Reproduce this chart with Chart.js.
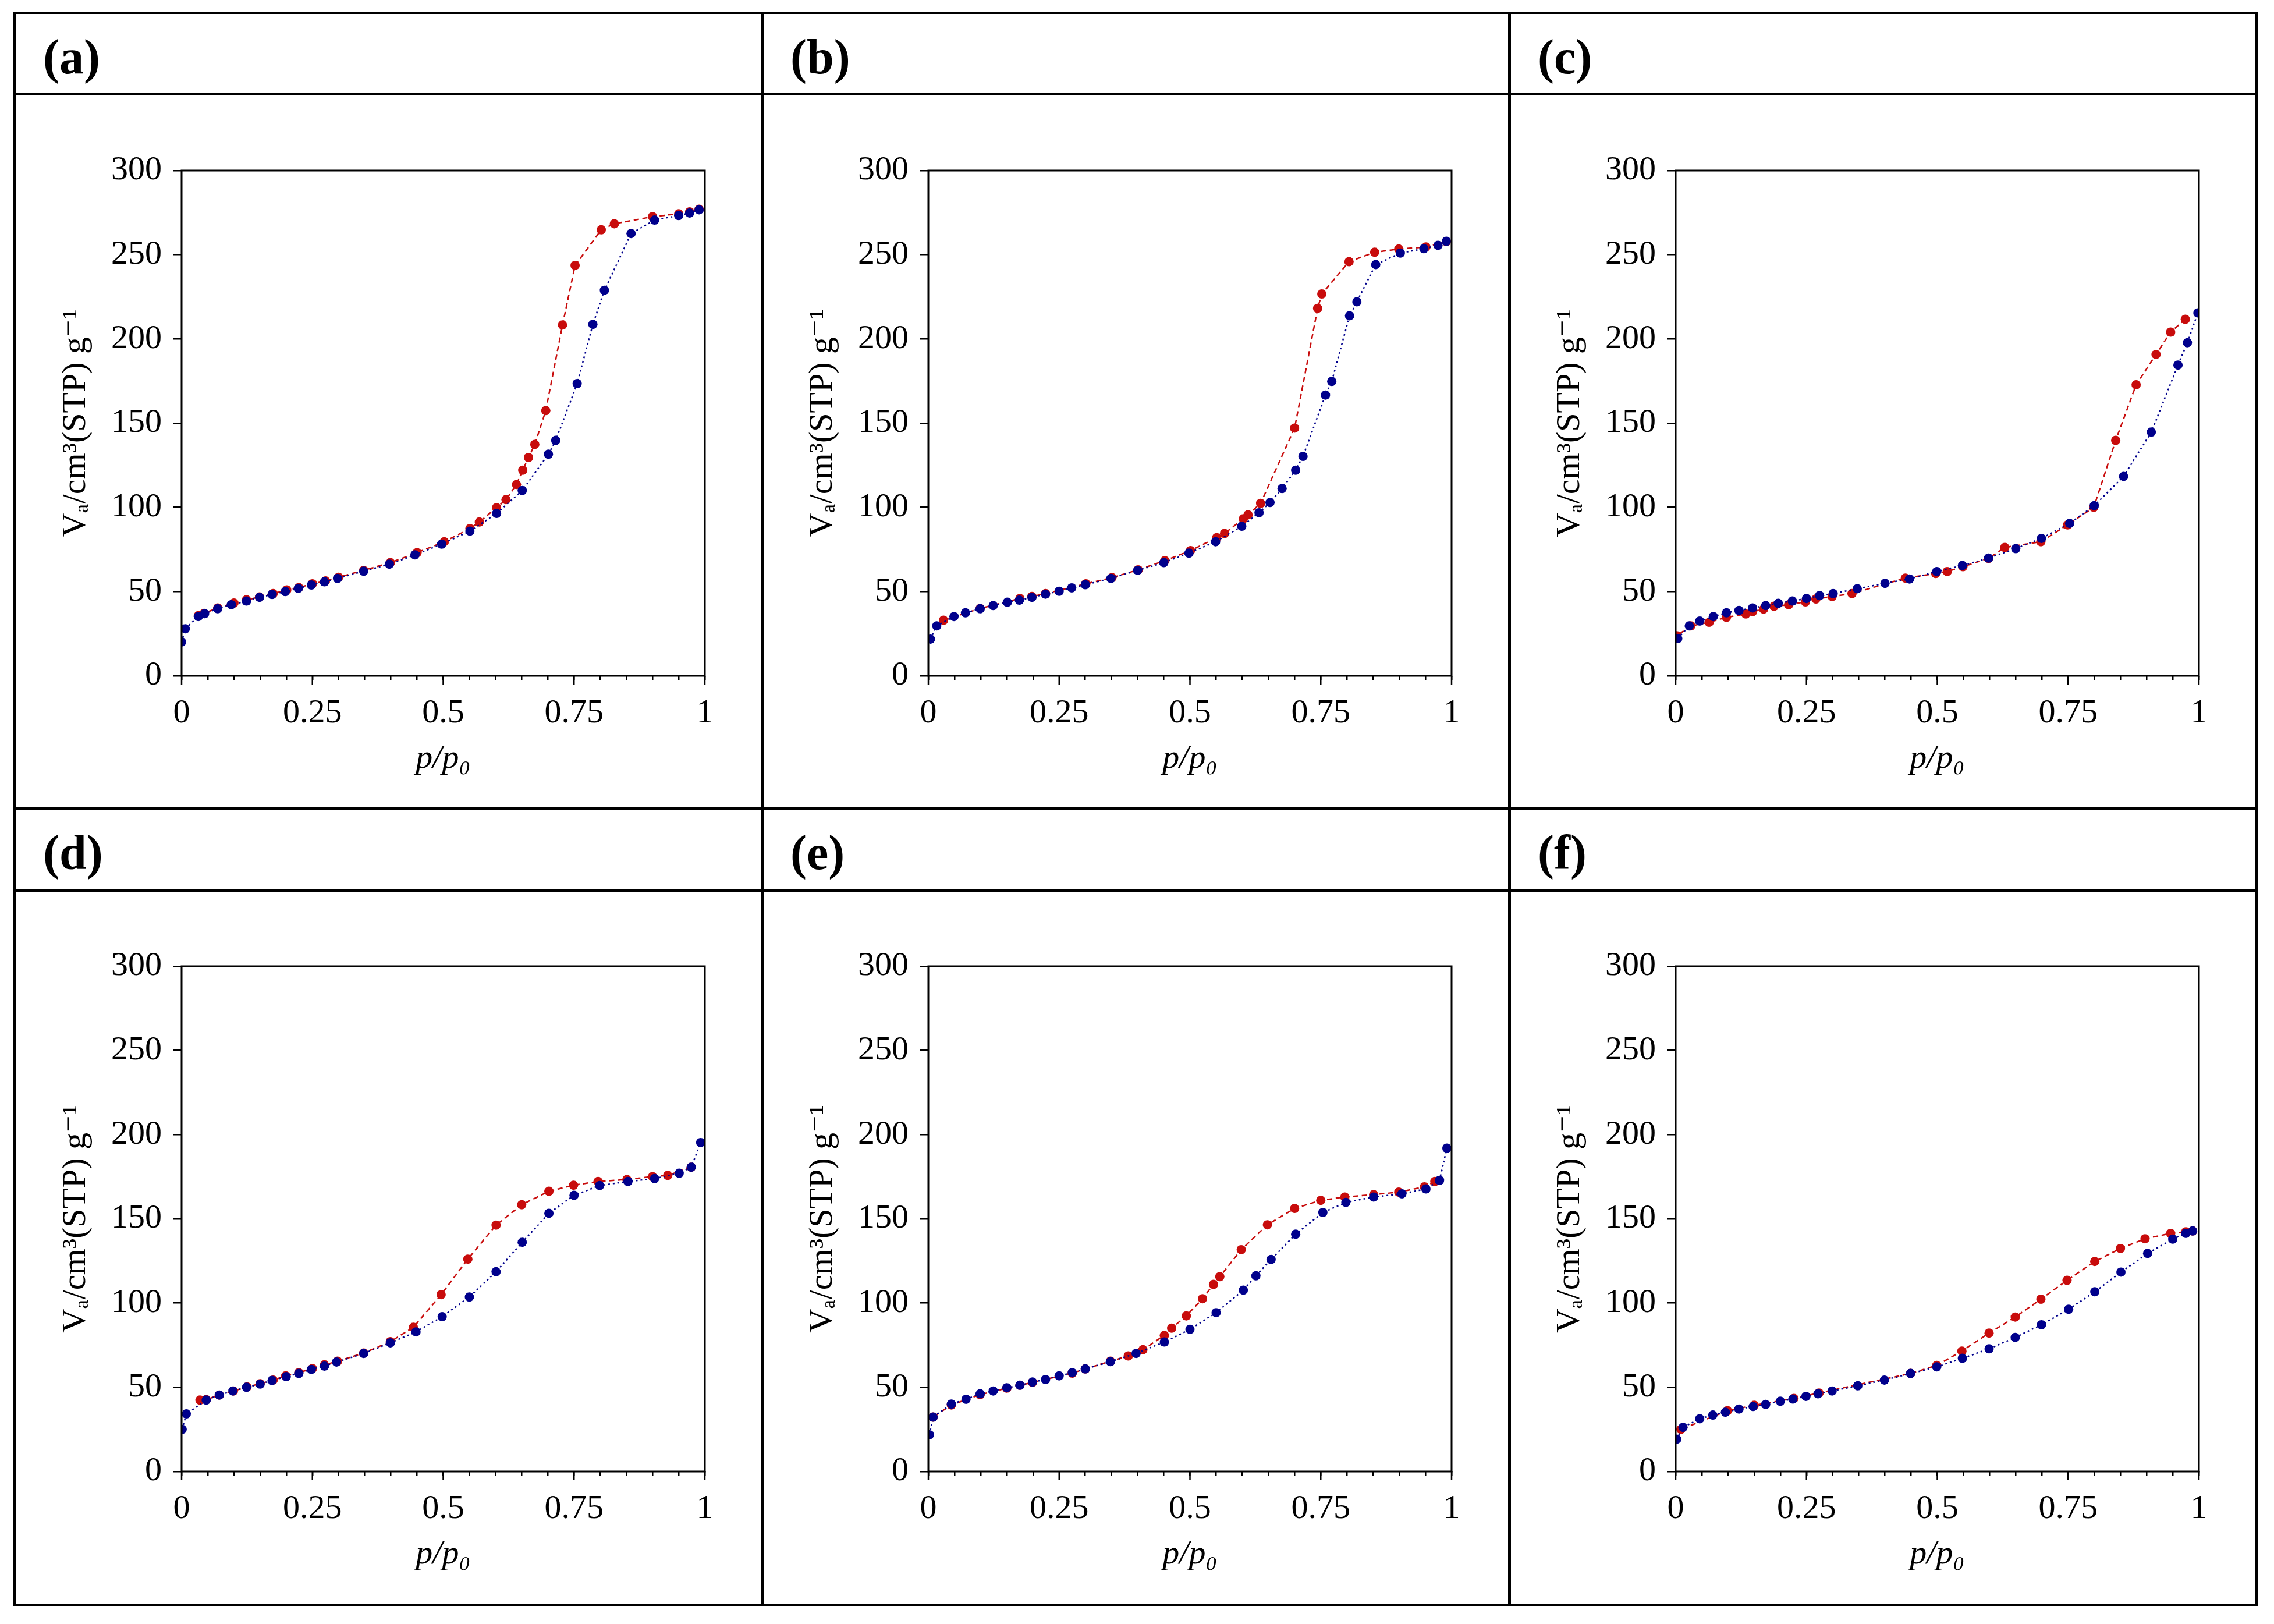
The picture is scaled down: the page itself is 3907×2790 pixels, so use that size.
<!DOCTYPE html>
<html>
<head>
<meta charset="utf-8">
<script src="https://cdn.jsdelivr.net/npm/chart.js@4/dist/chart.umd.min.js"></script>
<style>
  html, body { margin: 0; padding: 0; background: #fff; }
  body { width: 3907px; height: 2790px; position: relative; overflow: hidden; }
  .ln { position: absolute; background: #000; }
  .lbl { position: absolute; font-family: 'Liberation Serif', 'Times New Roman', serif; font-weight: bold; font-size: 84px; line-height: 84px; color: #000; white-space: nowrap; }
  canvas { position: absolute; }
</style>
</head>
<body>
<div class="ln" style="left:23px;top:20px;width:3857px;height:4px"></div>
<div class="ln" style="left:23px;top:2755px;width:3857px;height:4px"></div>
<div class="ln" style="left:23px;top:20px;width:4px;height:2739px"></div>
<div class="ln" style="left:3875px;top:20px;width:5px;height:2739px"></div>
<div class="ln" style="left:1307px;top:20px;width:5px;height:2739px"></div>
<div class="ln" style="left:2591px;top:20px;width:5px;height:2739px"></div>
<div class="ln" style="left:23px;top:160px;width:3857px;height:4px"></div>
<div class="ln" style="left:23px;top:1387px;width:3857px;height:4px"></div>
<div class="ln" style="left:23px;top:1528px;width:3857px;height:4px"></div>

<div class="lbl" style="left:74px;top:56px">(a)</div>
<div class="lbl" style="left:1358px;top:56px">(b)</div>
<div class="lbl" style="left:2642px;top:56px">(c)</div>
<div class="lbl" style="left:74px;top:1423px">(d)</div>
<div class="lbl" style="left:1358px;top:1423px">(e)</div>
<div class="lbl" style="left:2642px;top:1423px">(f)</div>

<canvas id="ca" width="1219" height="1188" style="left:52px;top:193px"></canvas>
<canvas id="cb" width="1219" height="1188" style="left:1335px;top:193px"></canvas>
<canvas id="cc" width="1219" height="1188" style="left:2619px;top:193px"></canvas>
<canvas id="cd" width="1219" height="1188" style="left:52px;top:1560px"></canvas>
<canvas id="ce" width="1219" height="1188" style="left:1335px;top:1560px"></canvas>
<canvas id="cf" width="1219" height="1188" style="left:2619px;top:1560px"></canvas>

<script>
// ---- axis / label data ----
const xTickValues = [0, 0.25, 0.5, 0.75, 1];
const yTickStep = 50;
const yMax = 300;
const panelLabels = ['(a)', '(b)', '(c)', '(d)', '(e)', '(f)'];
const yTitle = 'Vₐ/cm³(STP) g⁻¹';
const xTitle = 'p/p₀';

// ---- panel (a) ----
const pA_ads = [0.000,0.007,0.032,0.044,0.069,0.095,0.124,0.149,0.173,0.198,0.223,0.248,0.273,0.298,0.348,0.397,0.446,0.497,0.551,0.602,0.651,0.701,0.715,0.756,0.786,0.808,0.859,0.904,0.950,0.971,0.989];
const vA_ads = [20.1,27.9,35.2,36.9,39.8,42.2,44.4,46.6,48.3,50.0,51.9,53.9,55.8,57.8,62.1,66.3,71.8,78.2,85.9,96.4,110.0,131.6,139.8,173.5,208.7,228.9,262.6,270.6,273.3,274.8,276.7];
const pA_des = [0.989,0.971,0.950,0.900,0.827,0.802,0.752,0.728,0.696,0.675,0.663,0.652,0.640,0.620,0.602,0.569,0.551,0.502,0.450,0.399,0.348,0.300,0.275,0.250,0.224,0.201,0.175,0.149,0.124,0.100,0.069,0.043,0.032];
const vA_des = [277.0,275.5,274.3,272.6,268.4,264.8,243.7,208.3,157.5,137.4,129.6,122.1,113.6,104.6,99.8,91.3,87.4,79.6,73.1,67.2,62.6,58.5,56.3,54.6,52.4,51.0,48.8,46.8,45.1,43.2,40.3,37.1,35.7];

// ---- panel (b) ----
const pB_ads = [0.004,0.016,0.049,0.071,0.099,0.124,0.151,0.174,0.198,0.224,0.250,0.274,0.300,0.349,0.400,0.450,0.498,0.549,0.599,0.632,0.653,0.676,0.702,0.716,0.759,0.771,0.805,0.819,0.855,0.902,0.947,0.974,0.990];
const vB_ads = [21.8,29.6,35.2,37.4,39.8,41.7,43.7,44.9,46.6,48.5,50.2,52.2,54.1,57.8,62.6,67.2,72.8,79.6,88.8,96.8,102.9,111.2,122.1,130.3,166.7,174.8,213.8,222.1,244.2,251.0,253.6,255.6,258.0];
const pB_des = [0.990,0.951,0.899,0.853,0.804,0.752,0.744,0.700,0.635,0.611,0.602,0.566,0.551,0.501,0.452,0.401,0.351,0.301,0.224,0.198,0.175,0.099,0.029];
const vB_des = [257.8,254.6,253.4,251.5,245.9,226.7,218.2,147.1,102.4,95.6,93.2,84.5,82.0,74.3,68.4,62.9,58.3,54.6,48.8,47.1,45.9,40.0,33.0];

// ---- panel (c) ----
const pC_ads = [0.004,0.026,0.046,0.072,0.097,0.121,0.147,0.172,0.196,0.223,0.250,0.275,0.301,0.347,0.400,0.447,0.499,0.548,0.598,0.650,0.699,0.753,0.800,0.856,0.909,0.960,0.978,0.998];
const vC_ads = [22.1,29.6,32.5,35.2,37.4,38.8,40.3,41.7,43.0,44.4,45.9,47.6,48.8,51.7,54.9,57.5,61.9,65.5,69.9,75.5,81.6,90.5,101.0,118.4,144.7,184.5,197.8,215.5];
const pC_des = [0.974,0.946,0.918,0.880,0.841,0.799,0.749,0.698,0.629,0.598,0.549,0.519,0.497,0.439,0.337,0.299,0.268,0.248,0.216,0.188,0.168,0.147,0.134,0.097,0.064,0.029,0.002];
const vC_des = [211.7,204.1,190.8,172.8,139.8,100.0,89.6,79.6,76.2,69.7,64.8,61.9,60.7,58.0,48.8,47.1,45.6,43.9,42.2,41.3,39.6,38.1,36.7,34.7,31.8,29.6,23.8];

// ---- panel (d) ----
const pD_ads = [0.001,0.009,0.047,0.072,0.098,0.124,0.150,0.173,0.200,0.224,0.248,0.273,0.296,0.348,0.399,0.448,0.498,0.550,0.601,0.651,0.702,0.750,0.799,0.853,0.904,0.951,0.974,0.992];
const vD_ads = [25.0,34.2,42.4,45.4,47.8,50.0,51.9,54.1,56.3,58.2,60.6,62.6,65.0,70.1,76.4,82.9,91.9,103.6,118.6,136.1,153.3,164.0,169.8,172.2,173.9,177.1,180.7,195.3];
const pD_des = [0.974,0.929,0.900,0.851,0.796,0.749,0.702,0.650,0.601,0.547,0.496,0.443,0.399,0.348,0.298,0.273,0.250,0.224,0.199,0.175,0.150,0.125,0.099,0.072,0.047,0.035];
const vD_des = [180.7,175.8,175.1,173.4,172.2,170.0,166.4,158.4,146.3,126.1,105.0,85.6,77.1,70.3,65.5,63.3,61.1,58.7,56.8,54.3,52.1,50.2,47.8,45.4,42.7,42.4];

// ---- panel (e) ----
const pE_ads = [0.002,0.009,0.044,0.072,0.099,0.124,0.150,0.175,0.199,0.224,0.250,0.275,0.300,0.348,0.397,0.451,0.500,0.550,0.602,0.626,0.655,0.702,0.754,0.798,0.851,0.905,0.951,0.977,0.991];
const vE_ads = [21.8,32.3,40.0,42.9,46.1,47.8,49.7,51.2,53.1,54.6,56.8,58.7,60.9,65.2,70.1,76.9,84.4,94.3,107.7,116.2,125.9,140.9,153.8,159.8,163.0,164.9,167.8,172.9,192.0];
const pE_des = [0.968,0.948,0.899,0.851,0.796,0.750,0.700,0.648,0.598,0.557,0.545,0.524,0.493,0.465,0.451,0.410,0.382,0.348,0.300,0.275,0.199,0.175,0.150,0.099,0.044,0.009];
const vE_des = [172.2,169.0,165.9,164.4,163.0,161.0,156.2,146.5,131.7,115.7,111.1,102.6,92.4,85.1,80.8,72.3,68.6,65.5,60.9,58.4,52.9,51.2,49.5,45.6,39.5,32.3];

// ---- panel (f) ----
const pF_ads = [0.002,0.014,0.046,0.071,0.095,0.121,0.148,0.172,0.200,0.224,0.249,0.272,0.299,0.348,0.399,0.449,0.499,0.548,0.599,0.649,0.699,0.751,0.801,0.851,0.902,0.950,0.975,0.988];
const vF_ads = [19.2,26.2,31.3,33.5,35.2,37.1,38.6,39.8,41.7,43.0,44.6,46.1,47.8,50.9,54.3,58.2,62.1,67.2,72.8,79.6,87.1,96.3,106.7,118.4,129.5,138.0,141.4,142.8];
const pF_des = [0.988,0.975,0.946,0.897,0.850,0.801,0.748,0.698,0.649,0.599,0.547,0.499,0.449,0.274,0.226,0.150,0.099,0.010];
const vF_des = [142.8,142.3,141.4,138.2,132.4,124.7,113.5,102.3,91.7,82.2,71.5,63.0,58.2,46.6,43.4,39.3,36.1,25.0];

// ---- styling ----
const RED = 'rgb(200,12,12)';
const BLUE = 'rgb(0,0,140)';
const FONT = "'Liberation Serif', 'Times New Roman', 'DejaVu Serif', serif";

const pts = (xs, ys) => xs.map((x, i) => ({ x, y: ys[i] }));

const framePlugin = {
  id: 'frame',
  afterDraw(chart) {
    const { ctx, chartArea: a, scales } = chart;
    const x = scales.x;
    ctx.save();
    ctx.strokeStyle = '#000';
    ctx.lineWidth = 2.5;
    xTickValues.forEach(v => {
      const px = x.getPixelForValue(v);
      ctx.beginPath();
      ctx.moveTo(px, a.bottom);
      ctx.lineTo(px, a.bottom + 15);
      ctx.stroke();
    });
    ctx.lineWidth = 3;
    ctx.strokeRect(a.left, a.top, a.right - a.left, a.bottom - a.top);
    ctx.restore();
  }
};

function makeChart(id, pAds, vAds, pDes, vDes) {
  return new Chart(document.getElementById(id), {
    type: 'scatter',
    data: {
      datasets: [
        {
          label: 'adsorption',
          data: pts(pAds, vAds),
          showLine: true,
          borderColor: BLUE,
          backgroundColor: BLUE,
          borderWidth: 2.5,
          borderDash: [3, 5],
          pointRadius: 8,
          pointBorderWidth: 0,
          pointBackgroundColor: BLUE,
          order: 0
        },
        {
          label: 'desorption',
          data: pts(pDes, vDes),
          showLine: true,
          borderColor: RED,
          backgroundColor: RED,
          borderWidth: 2.5,
          borderDash: [9, 6],
          pointRadius: 8,
          pointBorderWidth: 0,
          pointBackgroundColor: RED,
          order: 1
        }
      ]
    },
    options: {
      responsive: false,
      animation: false,
      devicePixelRatio: 1,
      layout: { padding: { left: 0, right: 60, top: 100, bottom: 0 } },
      plugins: { legend: { display: false }, tooltip: { enabled: false } },
      scales: {
        x: {
          type: 'linear',
          min: 0, max: 1,
          afterFit(s) { s.height = 220; },
          border: { display: false },
          grid: { drawOnChartArea: false, drawTicks: true, tickLength: 8, color: '#000', lineWidth: 2.5 },
          afterBuildTicks(s) {
            const t = [];
            for (let i = 0; i <= 20; i++) t.push({ value: i / 20 });
            s.ticks = t;
          },
          ticks: {
            autoSkip: false,
            maxRotation: 0,
            padding: 22,
            color: '#000',
            font: { family: FONT, size: 58 },
            callback(v) {
              const r = Math.round(v * 100);
              return r % 25 === 0 ? String(r / 100) : '';
            }
          },
          title: {
            display: true,
            text: xTitle,
            color: '#000',
            font: { family: FONT, size: 58, style: 'italic' },
            padding: { top: 0, bottom: 42 }
          }
        },
        y: {
          type: 'linear',
          min: 0, max: yMax,
          afterFit(s) { s.width = 260; },
          border: { display: false },
          grid: { drawOnChartArea: false, drawTicks: true, tickLength: 15, color: '#000', lineWidth: 2.5 },
          ticks: {
            stepSize: yTickStep,
            padding: 19,
            color: '#000',
            font: { family: FONT, size: 58 }
          },
          title: {
            display: true,
            text: yTitle,
            color: '#000',
            font: { family: FONT, size: 58 },
            padding: { top: 44, bottom: 0 }
          }
        }
      }
    },
    plugins: [framePlugin]
  });
}

makeChart('ca', pA_ads, vA_ads, pA_des, vA_des);
makeChart('cb', pB_ads, vB_ads, pB_des, vB_des);
makeChart('cc', pC_ads, vC_ads, pC_des, vC_des);
makeChart('cd', pD_ads, vD_ads, pD_des, vD_des);
makeChart('ce', pE_ads, vE_ads, pE_des, vE_des);
makeChart('cf', pF_ads, vF_ads, pF_des, vF_des);
</script>
</body>
</html>
